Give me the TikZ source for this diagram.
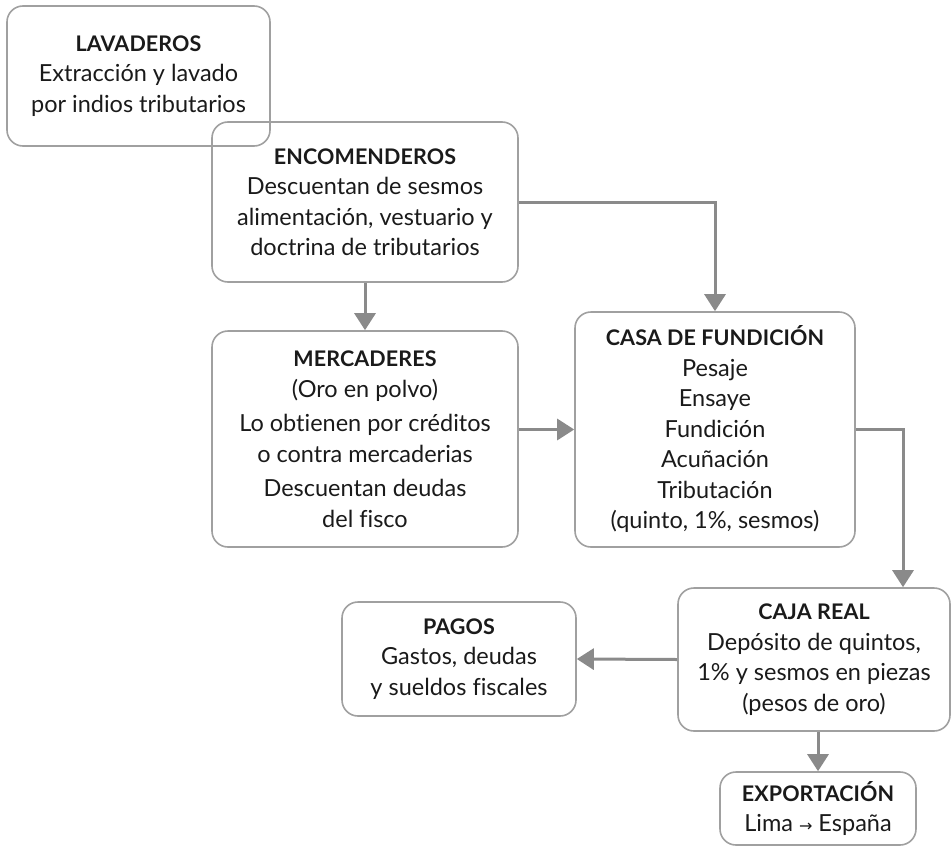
\documentclass[tikz,border=0pt]{standalone}
\usepackage{fontspec}
\setmainfont[Ligatures=NoCommon]{Lato}
\newfontfamily\arrowfont{DejaVu Sans}
\usetikzlibrary{arrows.meta}
\definecolor{boxgray}{HTML}{A0A0A0}
\definecolor{arrgray}{HTML}{8A8A8A}
\definecolor{txt}{HTML}{1A1A1A}
\newcommand\ttl[1]{{\fontsize{21.5}{30}\bfseries\addfontfeatures{LetterSpace=0.5}#1}}
\begin{document}
\begin{tikzpicture}[x=1pt,y=-1pt,
  box/.style={draw=boxgray,line width=1.6pt,rounded corners=16pt,align=center,
    inner sep=0pt,text=txt,font=\fontsize{23.5}{30.5}\selectfont},
  arr/.style={draw=arrgray,line width=3pt,-{Triangle[length=17pt,width=21pt]}}]
\useasboundingbox (0,0) rectangle (952,848);
\node[box,minimum width=263pt,minimum height=140pt](lav) at(138.5,76){\ttl{LAVADEROS}\\Extracción y lavado\\por indios tributarios};
\node[box,minimum width=306pt,minimum height=160pt](enc) at(365,202){\ttl{ENCOMENDEROS}\\Descuentan de sesmos\\alimentación, vestuario y\\doctrina de tributarios};
\node[box,minimum width=306pt,minimum height=216pt](mer) at(365,439){\ttl{MERCADERES}\\(Oro en polvo)\\[4pt]Lo obtienen por créditos\\o contra mercaderias\\[4pt]Descuentan deudas\\del fisco};
\node[box,minimum width=280pt,minimum height=235pt](cas) at(715,429.5){\ttl{CASA DE FUNDICIÓN}\\Pesaje\\Ensaye\\Fundición\\Acuñación\\Tributación\\(quinto, 1\%, sesmos)};
\node[box,minimum width=272pt,minimum height=143pt](caj) at(814,659.5){\ttl{CAJA REAL}\\Depósito de quintos,\\1\% y sesmos en piezas\\(pesos de oro)};
\node[box,minimum width=234pt,minimum height=114pt](pag) at(459,659){\ttl{PAGOS}\\Gastos, deudas\\y sueldos fiscales};
\node[box,minimum width=196pt,minimum height=73pt](exp) at(818,808.5){\ttl{EXPORTACIÓN}\\Lima {\arrowfont\fontsize{16}{30}\selectfont→} España};
\draw[arr] (enc.south) -- (mer.north);
\draw[arr] (enc.east) -| (cas.north);
\draw[arr] (mer.east |- cas.west) -- (cas.west);
\draw[arr] (cas.east) -| ([xshift=89pt]caj.north);
\draw[arr] (caj.west) -- (pag.east);
\draw[arr] (exp.north |- caj.south) -- (exp.north);
\end{tikzpicture}
\end{document}
